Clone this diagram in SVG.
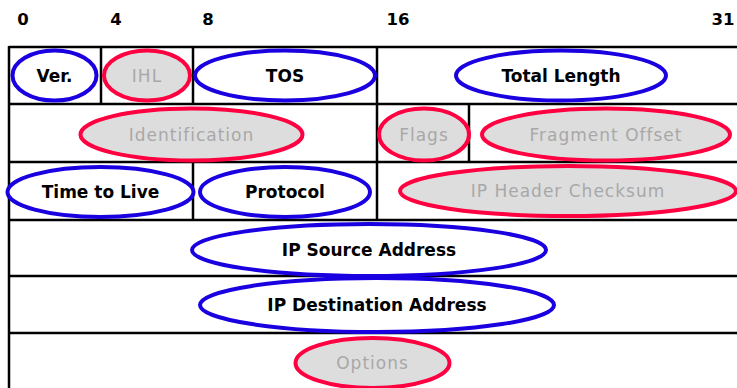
<svg xmlns="http://www.w3.org/2000/svg" width="737" height="388" viewBox="0 0 737 388">
  <style>
    .bit { font-family: "DejaVu Sans", "Liberation Sans", sans-serif; font-weight: bold; font-size: 16.5px; fill: #000; text-anchor: middle; }
    .grid { stroke: #000; stroke-width: 2.5; fill: none; }
    .used ellipse { fill: #fff; stroke: #1a00e0; stroke-width: 4; }
    .used text { font-family: "DejaVu Sans", "Liberation Sans", sans-serif; font-weight: bold; font-size: 17px; fill: #000; text-anchor: middle; }
    .unused ellipse { fill: #dddddd; stroke: #ff0040; stroke-width: 4; }
    .unused text { font-family: "DejaVu Sans", "Liberation Sans", sans-serif; font-size: 17px; letter-spacing: 1px; fill: #a8a8a8; text-anchor: middle; }
  </style>

  <rect width="737" height="388" fill="#fff"/>

  <!-- bit offsets -->
  <g id="bits">
    <text class="bit" x="23" y="25">0</text>
    <text class="bit" x="116" y="25">4</text>
    <text class="bit" x="208" y="25">8</text>
    <text class="bit" x="398" y="25">16</text>
    <text class="bit" x="723" y="25">31</text>
  </g>

  <!-- header grid -->
  <g id="grid" class="grid">
    <line x1="9" y1="47" x2="737" y2="47"/>
    <line x1="9" y1="104" x2="737" y2="104"/>
    <line x1="9" y1="162" x2="737" y2="162"/>
    <line x1="9" y1="220" x2="737" y2="220"/>
    <line x1="9" y1="276" x2="737" y2="276"/>
    <line x1="9" y1="333" x2="737" y2="333"/>
    <line x1="9" y1="46" x2="9" y2="388"/>
    <line x1="101" y1="47" x2="101" y2="104"/>
    <line x1="193" y1="47" x2="193" y2="104"/>
    <line x1="377" y1="47" x2="377" y2="220"/>
    <line x1="469" y1="104" x2="469" y2="162"/>
    <line x1="193" y1="162" x2="193" y2="220"/>
  </g>

  <!-- header fields -->
  <g id="ver" class="used"><ellipse cx="54.5" cy="75.5" rx="42" ry="25"/><text x="54.5" y="81.5">Ver.</text></g>
  <g id="ihl" class="unused"><ellipse cx="147" cy="75.5" rx="43" ry="25"/><text x="147" y="81.5">IHL</text></g>
  <g id="tos" class="used"><ellipse cx="285" cy="75.5" rx="90" ry="25"/><text x="285" y="81.5">TOS</text></g>
  <g id="total-length" class="used"><ellipse cx="561" cy="75.5" rx="105" ry="25"/><text x="561" y="81.5">Total Length</text></g>

  <g id="identification" class="unused"><ellipse cx="191.5" cy="134.5" rx="111" ry="26"/><text x="191.5" y="140.5">Identification</text></g>
  <g id="flags" class="unused"><ellipse cx="424" cy="134.5" rx="45" ry="26"/><text x="424" y="140.5">Flags</text></g>
  <g id="fragment-offset" class="unused"><ellipse cx="606" cy="134.5" rx="124" ry="26"/><text x="606" y="140.5">Fragment Offset</text></g>

  <g id="ttl" class="used"><ellipse cx="100.5" cy="192" rx="93" ry="25"/><text x="100.5" y="198">Time to Live</text></g>
  <g id="protocol" class="used"><ellipse cx="285" cy="192" rx="85" ry="25"/><text x="285" y="198">Protocol</text></g>
  <g id="checksum" class="unused"><ellipse cx="568" cy="191" rx="168" ry="25"/><text x="568" y="197">IP Header Checksum</text></g>

  <g id="source" class="used"><ellipse cx="369" cy="250" rx="177" ry="26"/><text x="369" y="256">IP Source Address</text></g>
  <g id="destination" class="used"><ellipse cx="377" cy="305" rx="177" ry="27"/><text x="377" y="311">IP Destination Address</text></g>
  <g id="options" class="unused"><ellipse cx="372.5" cy="363" rx="77" ry="25"/><text x="372.5" y="369">Options</text></g>
</svg>
